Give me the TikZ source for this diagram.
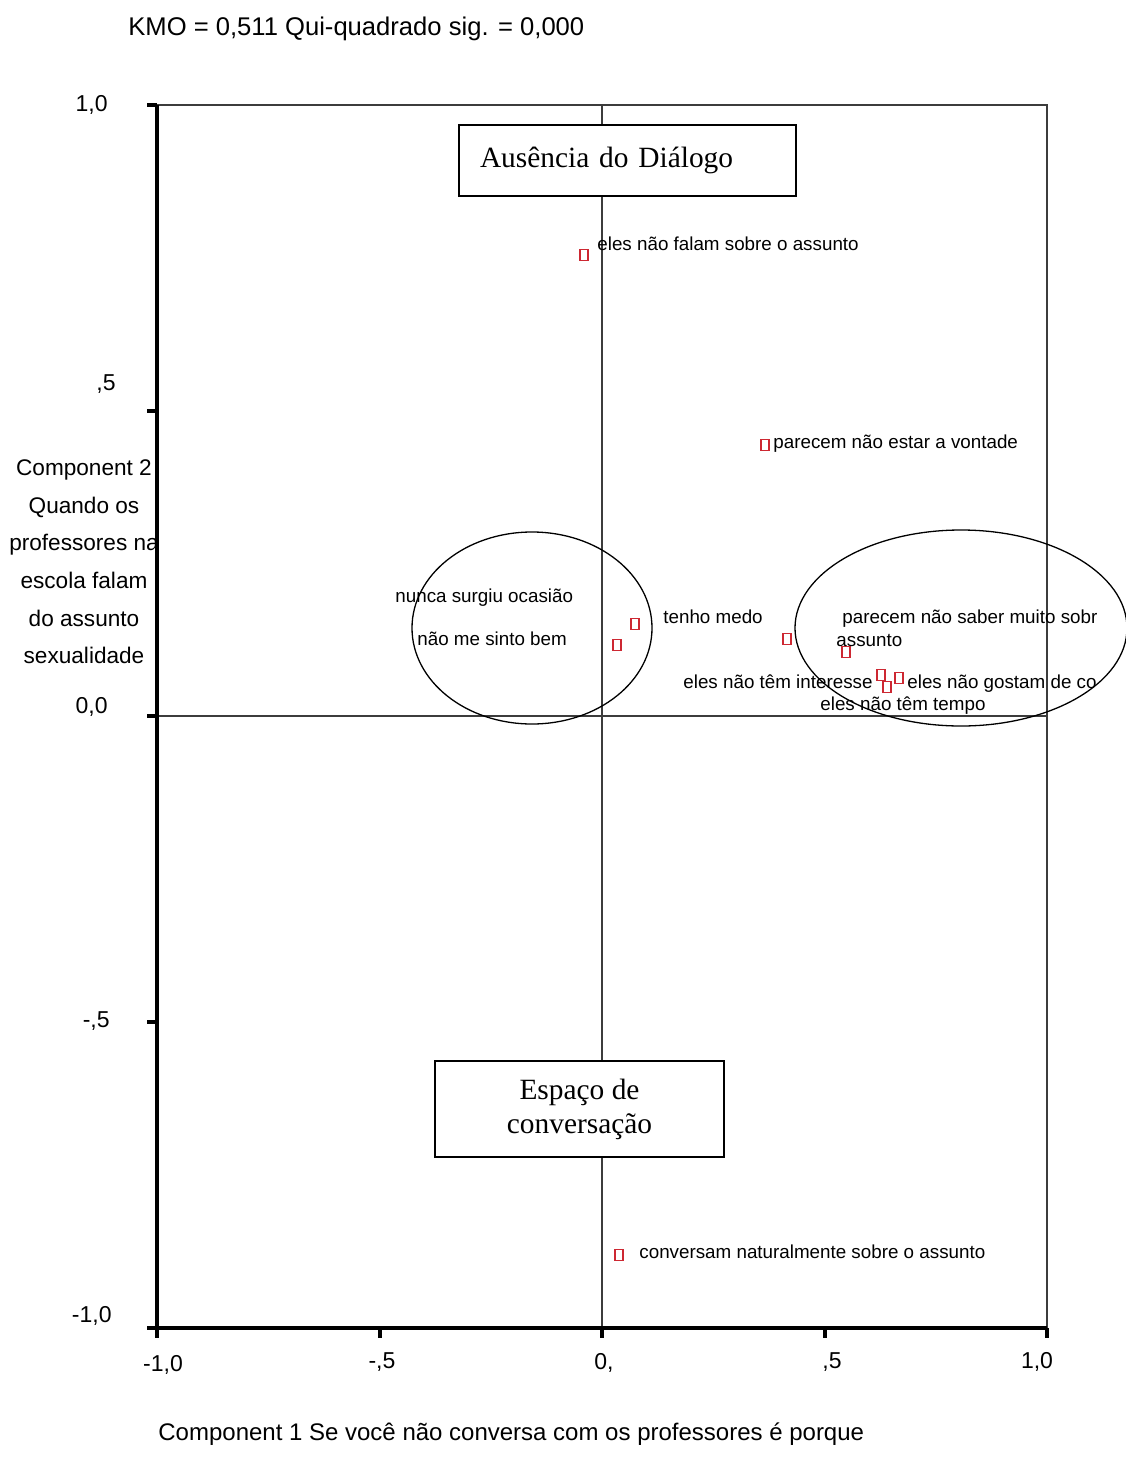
\documentclass[tikz,border=0pt]{standalone}
\usepackage{fontspec}
\setmainfont{Liberation Serif}
\newfontfamily\arialf{Liberation Sans}
\definecolor{ptred}{RGB}{205,40,50}
\definecolor{framegray}{RGB}{60,60,60}
\begin{document}
\begin{tikzpicture}[x=0.5pt,y=-0.5pt,
  lbl/.style={font=\arialf\fontsize{9.4}{11}\selectfont, inner sep=0pt, anchor=west, text height=0.72em, text depth=0.22em},
  axl/.style={font=\arialf\fontsize{11.5}{13}\selectfont, inner sep=0pt, text height=0.72em, text depth=0.22em},
  ptbox/.style={draw=ptred, line width=0.8pt, minimum width=4pt, minimum height=5.5pt, inner sep=0pt},
  framel/.style={draw=framegray, line width=1pt},
  thickax/.style={draw=black, line width=1.6pt},
  boxs/.style={draw=black, fill=white, line width=1pt, font=\fontsize{14.7}{17}\selectfont},
  ell/.style={draw=black, line width=0.65pt}
]
\path[use as bounding box] (0,0) rectangle (1125,1472);

% title
\node[font=\arialf\fontsize{12.8}{15}\selectfont, inner sep=0pt, anchor=west, text height=0.72em, text depth=0.22em] (title) at (128,30) {KMO = 0,511 Qui-quadrado sig. = 0,000};

% frame and zero lines
\draw[framel] (157,105) rectangle (1047,1328);
\draw[framel] (602,105) -- (602,1328);
\draw[framel] (157,716) -- (1047,716);

% axes
\draw[thickax] (157,105) -- (157,1328);
\draw[thickax] (148,1328) -- (1047,1328);
\foreach \yy in {105,411,716,1022,1328} \draw[line width=2pt] (147,\yy) -- (157,\yy);
\foreach \xx in {157,380,602,825,1047} \draw[line width=1.6pt] (\xx,1328) -- (\xx,1338);

% y tick labels
\node[axl, anchor=east] (y1) at (108,106) {1,0};
\node[axl, anchor=east] (y2) at (116,385) {,5};
\node[axl, anchor=east] (y3) at (108,708) {0,0};
\node[axl, anchor=east] (y4) at (110,1022) {-,5};
\node[axl, anchor=east] (y5) at (112,1317) {-1,0};

% x tick labels
\node[axl] (x1) at (163,1366) {-1,0};
\node[axl] (x2) at (382,1363) {-,5};
\node[axl] (x3) at (604,1364) {0,};
\node[axl] (x4) at (832,1363) {,5};
\node[axl] (x5) at (1037,1363) {1,0};

% axis titles
\node[font=\arialf\fontsize{11.3}{18.8}\selectfont, align=center, inner sep=0pt] (ytitle) at (84,562) {Component 2\\Quando os\\professores na\\escola falam\\do assunto\\sexualidade};
\node[font=\arialf\fontsize{12}{14}\selectfont, inner sep=0pt, anchor=west, text height=0.72em, text depth=0.22em] (xtitle) at (158,1435) {Component 1 Se você não conversa com os professores é porque};

% boxes
\node[boxs, minimum width=168.5pt, minimum height=35.5pt, text width=147.5pt, inner xsep=10.5pt, align=left] (bA) at (627.5,160.5) {Ausência do Diálogo};
\node[boxs, minimum width=144.5pt, minimum height=48pt, align=center] (bE) at (579.5,1109) {Espaço de\\conversação};

% ellipses
\draw[ell] (532,628) ellipse [x radius=60pt, y radius=48pt];
\draw[ell] (961,628) ellipse [x radius=83pt, y radius=49pt];

% points
\node[ptbox] (p1) at (584,255) {};
\node[ptbox] (p2) at (765,445) {};
\node[ptbox] (p3) at (635,624) {};
\node[ptbox] (p4) at (617,645) {};
\node[ptbox] (p5) at (787,639) {};
\node[ptbox] (p6) at (846,652) {};
\node[ptbox] (p7) at (881,675) {};
\node[ptbox] (p8) at (887,687) {};
\node[ptbox] (p9) at (899,678) {};
\node[ptbox] (p10) at (619,1255) {};

% point labels
\node[lbl] (l1) at (597,245) {eles não falam sobre o assunto};
\node[lbl] (l2) at (773,443) {parecem não estar a vontade};
\node[lbl] (l3) at (395,597) {nunca surgiu ocasião};
\node[lbl] (l4) at (417,640) {não me sinto bem};
\node[lbl] (l5) at (663,618) {tenho medo};
\node[lbl] (l6) at (842,618) {parecem não saber muito sobr};
\node[lbl] (l7) at (836,641) {assunto};
\node[lbl] (l8) at (683,683) {eles não têm interesse};
\node[lbl] (l9) at (907,683) {eles não gostam de co};
\node[lbl] (l10) at (820,705) {eles não têm tempo};
\node[lbl] (l11) at (639,1253) {conversam naturalmente sobre o assunto};
\end{tikzpicture}
\end{document}
